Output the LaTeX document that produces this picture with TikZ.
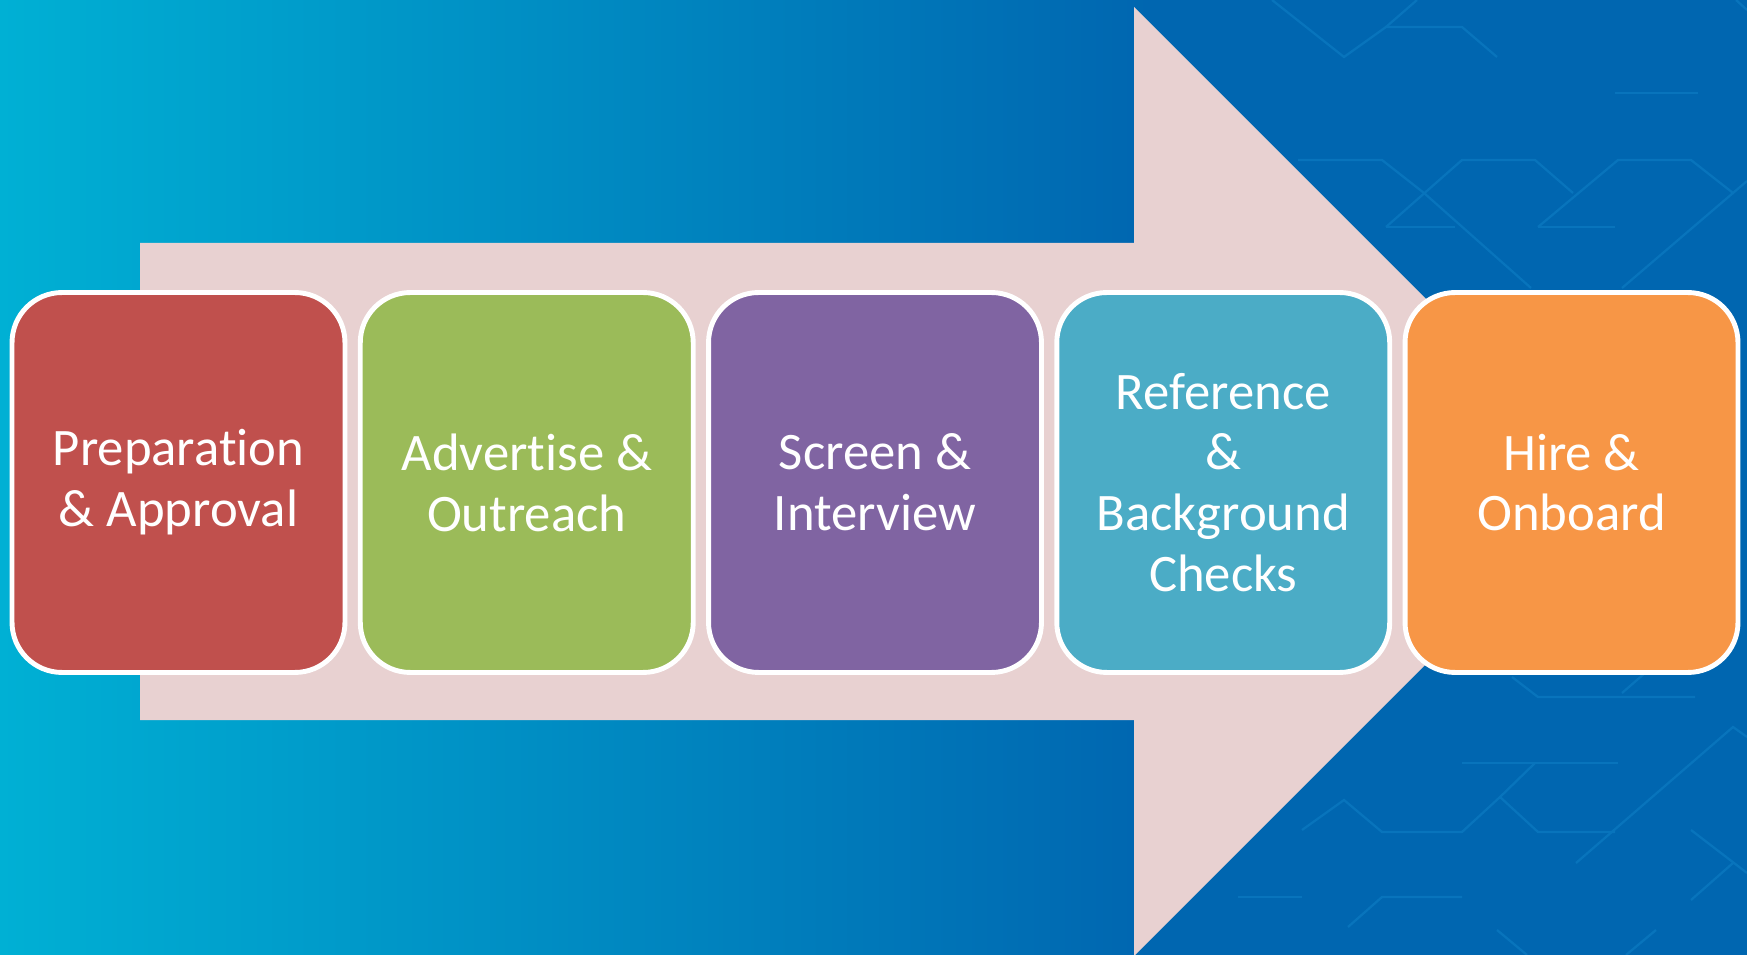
\documentclass[tikz,border=0pt]{standalone}
\usepackage{fontspec}
\setmainfont[Ligatures=NoCommon]{Carlito}
\usetikzlibrary{positioning}
\definecolor{bgl}{RGB}{0,176,212}
\definecolor{bgr}{RGB}{0,102,176}
\definecolor{patt}{RGB}{8,116,188}
\definecolor{arw}{RGB}{232,209,209}
\definecolor{c1}{RGB}{192,80,77}
\definecolor{c2}{RGB}{155,187,89}
\definecolor{c3}{RGB}{128,100,162}
\definecolor{c4}{RGB}{75,172,198}
\definecolor{c5}{RGB}{247,150,70}
\tikzset{
  stepbox/.style={draw=white,line width=2.8pt,rounded corners=1cm,
    minimum width=6.66cm,minimum height=7.6cm,inner sep=0pt,
    text=white,align=center,font=\fontsize{30}{34.6}\selectfont},
  circuit/.style={patt,line width=1.3pt}
}

\begin{document}
\begin{tikzpicture}[x=0.02cm,y=-0.02cm]
    \useasboundingbox (0,0) rectangle (1747,955);
    % backdrop
    \fill[bgr] (0,0) rectangle (1747,955);
    \shade[left color=bgl,right color=bgr] (0,0) rectangle (1150,955);
    % faint circuit lines
    \draw[circuit] (1272,0)--(1344,57)--(1386,27)--(1462,27)--(1497,57);
    \draw[circuit] (1386,27)--(1417,0);
    \draw[circuit] (1615,93)--(1698,93);
    \draw[circuit] (1298,160)--(1382,160)--(1424,193)--(1531,288);
    \draw[circuit] (1386,227)--(1455,227);
    \draw[circuit] (1386,227)--(1462,160)--(1535,160)--(1573,193);
    \draw[circuit] (1538,227)--(1615,227);
    \draw[circuit] (1538,227)--(1618,160)--(1691,160)--(1733,193)--(1747,181);
    \draw[circuit] (1733,193)--(1622,288);
    \draw[circuit] (1736,0)--(1747,10);
    \draw[circuit] (1512,677)--(1538,697)--(1695,697);
    \draw[circuit] (1622,693)--(1645,673);
    \draw[circuit] (1462,763)--(1618,763);
    \draw[circuit] (1535,763)--(1500,797)--(1462,832)--(1382,832)--(1344,800)--(1302,830);
    \draw[circuit] (1500,797)--(1538,832)--(1615,832);
    \draw[circuit] (1576,863)--(1733,727)--(1747,737);
    \draw[circuit] (1691,830)--(1747,873);
    \draw[circuit] (1691,900)--(1733,863);
    \draw[circuit] (1238,897)--(1302,897);
    \draw[circuit] (1348,927)--(1382,897)--(1462,897);
    \draw[circuit] (1497,930)--(1527,955);
    \draw[circuit] (1626,955)--(1656,930);
    % big arrow
    \fill[arw] (140,243) -- (1134,243) -- (1134,7) -- (1608.5,481.5)
      -- (1134,956) -- (1134,720) -- (140,720) -- cycle;
    % steps
    \foreach \i/\col/\txt in {
      1/c1/{Preparation\\\& Approval},
      2/c2/{Advertise \&\\Outreach},
      3/c3/{Screen \&\\Interview},
      4/c4/{Reference\\\&\\Background\\Checks},
      5/c5/{Hire \&\\Onboard}}{
      \node[stepbox,fill=\col] (s\i) at ({178.5+348.25*(\i-1)},482.5) {\txt};
    }
  \end{tikzpicture}
\end{document}
